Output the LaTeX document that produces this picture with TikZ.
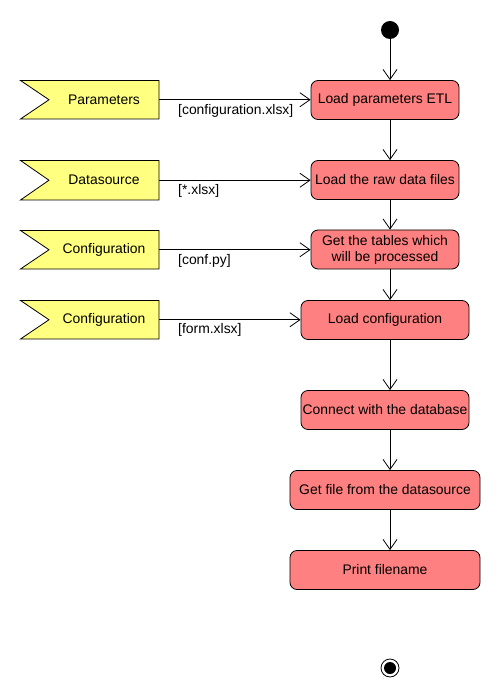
\documentclass[tikz,border=0pt]{standalone}
\usepackage{fontspec}
\setmainfont{Liberation Sans}
\usetikzlibrary{arrows.meta,calc}
\definecolor{actred}{HTML}{FF8080}
\definecolor{flagyel}{HTML}{FFFF80}
\tikzset{
  act/.style={draw=black, fill=actred, rounded corners=7pt, line width=0.8pt, align=center,
    inner sep=0pt, font=\fontsize{13.9}{16}\selectfont},
  flagtxt/.style={font=\fontsize{13.9}{16}\selectfont},
  lbl/.style={font=\fontsize{13.9}{16}\selectfont, anchor=north west, inner sep=0pt},
  arr/.style={line width=0.8pt, -{Straight Barb[length=10pt,width=14pt,line width=0.8pt]}},
}
\begin{document}
\begin{tikzpicture}[x=1pt,y=-1pt]
\useasboundingbox (0,0) rectangle (500,700);
% activities
\node[act, minimum width=148pt, minimum height=39pt] (b1) at (385,100) {Load parameters ETL};
\node[act, minimum width=148pt, minimum height=39pt] (b2) at (385,180) {Load the raw data files};
\node[act, minimum width=148pt, minimum height=39pt] (b3) at (385,249.5) {Get the tables which\\will be processed};
\node[act, minimum width=168pt, minimum height=39pt] (b4) at (385,320) {Load configuration};
\node[act, minimum width=168pt, minimum height=39pt] (b5) at (385,410) {Connect with the database};
\node[act, minimum width=190pt, minimum height=39pt] (b6) at (385,490) {Get file from the datasource};
\node[act, minimum width=190pt, minimum height=39pt] (b7) at (385,570) {Print filename};
% initial / final
\node[circle, fill=black, minimum size=18pt, inner sep=0pt] (start) at (390,30) {};
\node[circle, draw=black, line width=0.8pt, minimum size=18pt, inner sep=0pt] (end) at (390,668) {};
\node[circle, fill=black, minimum size=12pt, inner sep=0pt] (endin) at (390,668) {};
% vertical flow
\draw[arr] (start) -- (start |- b1.north);
\draw[arr] (b1.south -| start) -- (b2.north -| start);
\draw[arr] (b2.south -| start) -- (b3.north -| start);
\draw[arr] (b3.south -| start) -- (b4.north -| start);
\draw[arr] (b4.south -| start) -- (b5.north -| start);
\draw[arr] (b5.south -| start) -- (b6.north -| start);
\draw[arr] (b6.south -| start) -- (b7.north -| start);
% flags
\foreach \n/\yt/\yb/\txt in {f1/80.5/119/Parameters, f2/160.5/200/Datasource, f3/230.5/269/Configuration, f4/300.5/339/Configuration}{
  \draw[fill=flagyel, line width=0.8pt] (20.5,\yt) -- (159,\yt) -- (159,\yb) -- (20.5,\yb) -- (49,{(\yt+\yb)/2}) -- cycle;
  \coordinate (\n) at (159,{(\yt+\yb)/2});
  \node[flagtxt] (\n t) at (104,{(\yt+\yb)/2}) {\txt};
}
% input arrows
\draw[arr] (f1) -- (f1 -| b1.west);
\draw[arr] (f2) -- (f2 -| b2.west);
\draw[arr] (f3) -- (f3 -| b3.west);
\draw[arr] (f4) -- (f4 -| b4.west);
\node[lbl] (l1) at (178,104) {[configuration.xlsx]};
\node[lbl] (l2) at (178,184) {[*.xlsx]};
\node[lbl] (l3) at (178,254) {[conf.py]};
\node[lbl] (l4) at (178,323) {[form.xlsx]};
\end{tikzpicture}
\end{document}
